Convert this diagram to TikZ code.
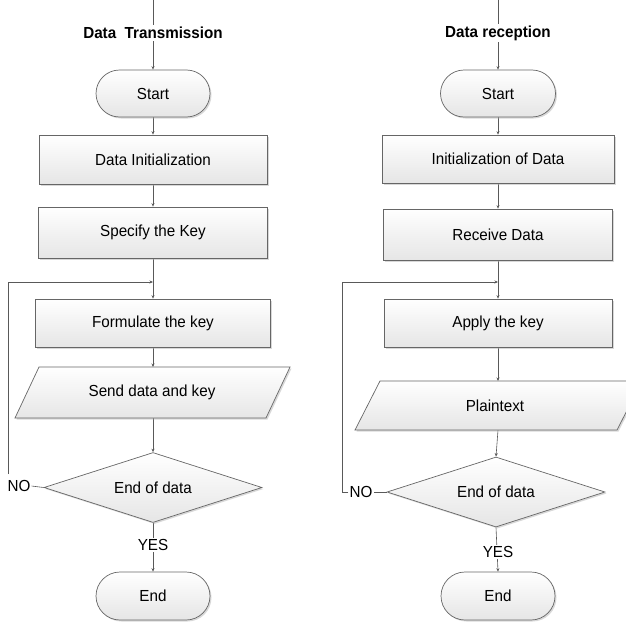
\documentclass[tikz,border=0pt]{standalone}
\usepackage{fontspec}
\setmainfont{Liberation Sans}[FakeStretch=0.95]
\usetikzlibrary{shapes.misc,shapes.geometric,shadows,arrows.meta,backgrounds}
\newcommand\flowfont{\fontsize{16}{18}\selectfont}
\begin{document}
\begin{tikzpicture}[x=1pt,y=-1pt,
  shapefill/.style={draw=black!60,line width=0.7pt,top color=white,bottom color=black!10,
    drop shadow={shadow xshift=1.5pt,shadow yshift=-1.5pt,fill=black!30}},
  box/.style={shapefill,rectangle,inner sep=0pt,font=\flowfont},
  term/.style={shapefill,rounded rectangle,inner sep=0pt,minimum width=114pt,minimum height=47pt,font=\flowfont},
  dec/.style={shapefill,diamond,aspect=3,inner sep=0pt,minimum width=218pt,minimum height=70pt,font=\flowfont},
  txt/.style={font=\flowfont,inner sep=1pt},
  lbl/.style={font=\flowfont,fill=white,inner sep=1pt},
  ttl/.style={font=\flowfont\bfseries,fill=white,inner sep=2pt},
  conn/.style={draw=black!65,line width=0.6pt,-{Stealth[length=3.5pt,width=3pt]}},
  plain/.style={draw=black!65,line width=0.6pt}]
\clip (0,0) rectangle (626,621);
% ---------- left column ----------
\coordinate (topL) at (153,0);
\node[term] (startL) at (153,93.5) {Start};
\node[box,minimum width=228pt,minimum height=49pt] (initL) at (153,159.5) {Data Initialization};
\node[box,minimum width=229pt,minimum height=51pt] (keyL) at (153,232.5) {Specify the Key};
\node[box,minimum width=235pt,minimum height=48pt] (formL) at (153,323) {Formulate the key};
\path[shapefill] (39,367) -- (290,367) -- (266,418) -- (15,418) -- cycle;
\node[txt] (sendL) at (152,392.5) {Send data and key};
\coordinate (sendLt) at (153,367);
\coordinate (sendLb) at (153,418);
\node[dec] (decL) at (153,487.5) {End of data};
\node[term,minimum height=48pt] (endL) at (153,596) {End};
\coordinate (loopL) at (153,282);
\coordinate (cornL) at (8,474);
% ---------- right column ----------
\coordinate (topR) at (498,0);
\node[term,minimum width=115pt] (startR) at (498,93.5) {Start};
\node[box,minimum width=232pt,minimum height=48pt] (initR) at (498,159) {Initialization of Data};
\node[box,minimum width=229pt,minimum height=51pt] (recvR) at (498,234.5) {Receive Data};
\node[box,minimum width=228pt,minimum height=48pt] (applyR) at (498,323) {Apply the key};
\path[shapefill] (380,381) -- (642,381) -- (617,430) -- (355,430) -- cycle;
\node[txt] (plainR) at (495,405.5) {Plaintext};
\coordinate (plainRt) at (498,381);
\coordinate (plainRb) at (498,430);
\node[dec] (decR) at (496,492) {End of data};
\node[term,minimum height=48pt] (endR) at (498,596) {End};
\coordinate (loopR) at (498,282);
\coordinate (cornR) at (342,492);
% ---------- connectors ----------
\begin{scope}[on background layer]
\draw[conn] (topL) -- (startL.north);
\draw[conn] (startL.south) -- (initL.north);
\draw[conn] (initL.south) -- (keyL.north);
\draw[conn] (keyL.south) -- (formL.north);
\draw[conn] (formL.south) -- (sendLt);
\draw[conn] (sendLb) -- (decL.north);
\draw[conn] (decL.south) -- (endL.north);
\draw[conn] (cornL) |- (loopL);
\draw[conn] (topR) -- (startR.north);
\draw[conn] (startR.south) -- (initR.north);
\draw[conn] (initR.south) -- (recvR.north);
\draw[conn] (recvR.south) -- (applyR.north);
\draw[conn] (applyR.south) -- (plainRt);
\draw[conn] (plainRb) -- (decR.north);
\draw[conn] (decR.south) -- (endR.north);
\end{scope}
% ---------- labels ----------
\node[ttl] (titleL) at (153,33) {Data~~Transmission};
\node[ttl] (titleR) at (498,33) {Data reception};
\node[lbl] (yesL) at (153,545) {YES};
\node[lbl] (yesR) at (498,552) {YES};
\node[lbl] (noL) at (19,486) {NO};
\node[lbl] (noR) at (361,492) {NO};
\draw[plain] (decL.west) -- (noL.east);
\draw[plain] (decR.west) -- (noR.east);
\draw[conn] (noR.west) -- (cornR) |- (loopR);
\end{tikzpicture}
\end{document}
